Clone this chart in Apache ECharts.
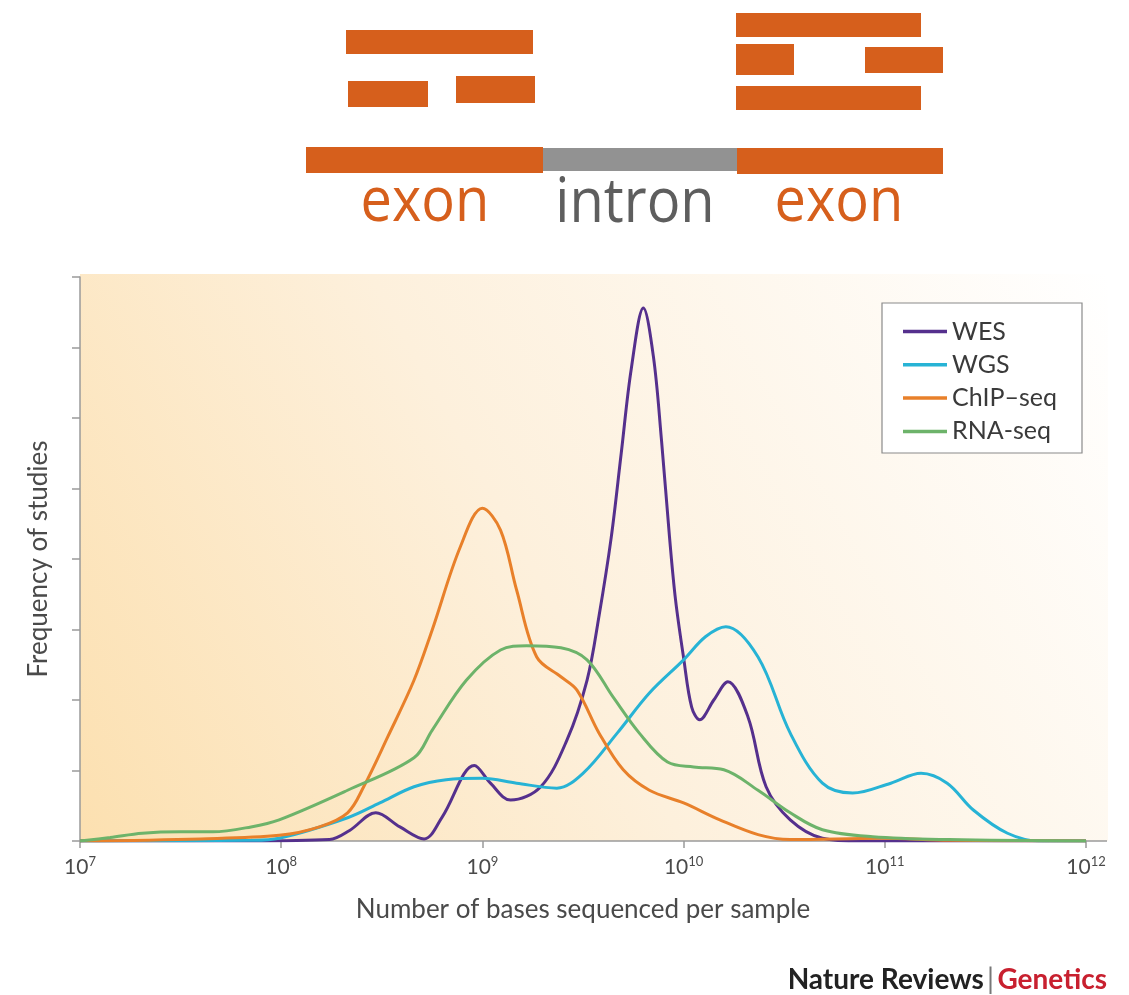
<!DOCTYPE html>
<html>
<head>
<meta charset="utf-8">
<title>Bases sequenced per sample</title>
<script src="https://cdn.jsdelivr.net/npm/echarts@6/dist/echarts.min.js"></script>
<style>
  html, body { margin: 0; padding: 0; background: #fff; }
  #chart { width: 1129px; height: 995px; }
</style>
</head>
<body>
<div id="chart"></div>
<script>
// x positions are log10(bases per sample), y is relative frequency
var seriesNames = ['WES', 'WGS', 'ChIP–seq', 'RNA-seq'];
var seriesColors = ['#55308d', '#27b3d5', '#e8802a', '#6db36a'];

var wesExp = [7.0, 7.85, 8.24, 8.34, 8.47, 8.59, 8.71, 8.80, 8.96, 9.04, 9.14, 9.29, 9.42, 9.52, 9.58, 9.64, 9.69, 9.74, 9.80, 9.85, 9.89, 9.93, 9.96, 10.0, 10.04, 10.08, 10.15, 10.22, 10.32, 10.41, 10.53, 10.69, 10.88, 12.0];
var wesVal = [0, 0, 0.02, 0.15, 0.40, 0.20, 0.03, 0.34, 1.07, 0.82, 0.58, 0.77, 1.43, 2.28, 3.20, 4.30, 5.50, 6.70, 7.56, 6.87, 5.69, 4.31, 3.42, 2.60, 1.90, 1.72, 2.0, 2.26, 1.76, 0.77, 0.30, 0.04, 0, 0];

var wgsExp = [7.0, 7.85, 7.99, 8.33, 8.49, 8.66, 8.82, 9.0, 9.17, 9.37, 9.50, 9.67, 9.83, 10.0, 10.11, 10.21, 10.37, 10.53, 10.69, 10.84, 11.03, 11.18, 11.31, 11.44, 11.61, 11.77, 12.0];
var wgsVal = [0, 0.01, 0.04, 0.33, 0.54, 0.77, 0.87, 0.89, 0.82, 0.75, 0.96, 1.53, 2.10, 2.57, 2.90, 3.04, 2.61, 1.53, 0.82, 0.68, 0.82, 0.96, 0.82, 0.44, 0.11, 0, 0];

var chipExp = [7.0, 7.60, 7.99, 8.19, 8.33, 8.41, 8.53, 8.66, 8.75, 8.89, 9.0, 9.09, 9.17, 9.27, 9.39, 9.47, 9.58, 9.70, 9.83, 10.0, 10.18, 10.37, 10.53, 10.98, 11.32, 12.0];
var chipVal = [0, 0.03, 0.08, 0.20, 0.40, 0.77, 1.48, 2.28, 2.99, 4.17, 4.72, 4.41, 3.56, 2.61, 2.33, 2.14, 1.53, 1.01, 0.72, 0.54, 0.30, 0.09, 0.02, 0.04, 0.01, 0];

var rnaExp = [7.0, 7.15, 7.31, 7.50, 7.66, 7.85, 7.99, 8.33, 8.66, 8.75, 8.92, 9.09, 9.22, 9.39, 9.52, 9.65, 9.78, 9.92, 10.05, 10.20, 10.37, 10.53, 10.69, 10.94, 11.32, 12.0];
var rnaVal = [0, 0.05, 0.11, 0.13, 0.13, 0.20, 0.30, 0.72, 1.18, 1.57, 2.28, 2.71, 2.77, 2.74, 2.57, 2.04, 1.53, 1.12, 1.05, 1.01, 0.72, 0.40, 0.16, 0.06, 0.02, 0];

var xTickExponents = [7, 8, 9, 10, 11, 12];

var chart = echarts.init(document.getElementById('chart'));

function pairs(exps, vals) {
  return exps.map(function (e, i) { return [Math.pow(10, e), vals[i]]; });
}

var allExp = [wesExp, wgsExp, chipExp, rnaExp];
var allVal = [wesVal, wgsVal, chipVal, rnaVal];

var series = seriesNames.map(function (name, i) {
  return {
    name: name,
    type: 'line',
    smooth: 0.35,
    showSymbol: false,
    symbol: 'none',
    lineStyle: { width: 3, color: seriesColors[i] },
    itemStyle: { color: seriesColors[i] },
    z: 3,
    data: pairs(allExp[i], allVal[i])
  };
});

var orange = '#d65f1c';
var geneFont = '56px "Open Sans", sans-serif';

var option = {
  animation: false,
  textStyle: { fontFamily: 'Lato, "Open Sans", sans-serif' },
  grid: { left: 80, right: 43, top: 277, bottom: 154, containLabel: false },
  legend: {
    orient: 'vertical',
    left: 898,
    top: 314,
    icon: 'rect',
    itemWidth: 44,
    itemHeight: 3.5,
    itemGap: 8.3,
    data: seriesNames,
    textStyle: { fontSize: 25, color: '#3a3a3a', lineHeight: 25, fontFamily: 'Lato' },
    z: 10
  },
  xAxis: {
    type: 'log',
    logBase: 10,
    min: Math.pow(10, xTickExponents[0]),
    max: Math.pow(10, xTickExponents[xTickExponents.length - 1]),
    name: 'Number of bases sequenced per sample',
    nameLocation: 'middle',
    nameGap: 56,
    nameTextStyle: { fontSize: 26, color: '#4a4a4a', fontFamily: 'Lato' },
    axisLine: { lineStyle: { color: '#9a9a9a', width: 1.5 } },
    axisTick: { length: 7, lineStyle: { color: '#9a9a9a', width: 1.5 } },
    splitLine: { show: false },
    minorTick: { show: false },
    axisLabel: {
      margin: 14,
      formatter: function (v) {
        return '10{sup|' + Math.round(Math.log10(v)) + '}';
      },
      fontSize: 21,
      color: '#4a4a4a',
      rich: {
        sup: { fontSize: 13, verticalAlign: 'top', padding: [0, 0, 12, 0], color: '#4a4a4a' }
      }
    }
  },
  yAxis: {
    type: 'value',
    min: 0,
    max: 8,
    interval: 1,
    name: 'Frequency of studies',
    nameLocation: 'middle',
    nameGap: 28,
    nameTextStyle: { fontSize: 26, color: '#4a4a4a', fontFamily: 'Lato' },
    axisLine: { show: true, lineStyle: { color: '#9a9a9a', width: 1.5 } },
    axisTick: { show: true, length: 8, lineStyle: { color: '#9a9a9a', width: 1.5 } },
    axisLabel: { show: false },
    splitLine: { show: false }
  },
  graphic: [
    // plot background
    {
      type: 'rect', z: -10, silent: true,
      shape: { x: 80, y: 274, width: 1028, height: 567 },
      style: {
        fill: new echarts.graphic.LinearGradient(0, 1, 1, 0, [
          { offset: 0, color: '#fce0b0' },
          { offset: 0.45, color: '#fdf0dc' },
          { offset: 1, color: '#ffffff' }
        ])
      }
    },
    // x axis line beyond 10^12
    {
      type: 'line', z: 1, silent: true,
      shape: { x1: 1086, y1: 841, x2: 1107, y2: 841 },
      style: { stroke: '#9a9a9a', lineWidth: 1.5 }
    },
    // legend box
    {
      type: 'rect', z: 5, silent: true,
      shape: { x: 882, y: 303, width: 200, height: 150 },
      style: { fill: '#ffffff', stroke: '#8a8a8a', lineWidth: 1.2 }
    },
    // gene diagram: reads
    { type: 'rect', shape: { x: 346, y: 30, width: 187, height: 24 }, style: { fill: orange } },
    { type: 'rect', shape: { x: 348, y: 81, width: 80, height: 26 }, style: { fill: orange } },
    { type: 'rect', shape: { x: 456, y: 76, width: 79, height: 27 }, style: { fill: orange } },
    { type: 'rect', shape: { x: 736, y: 13, width: 185, height: 24 }, style: { fill: orange } },
    { type: 'rect', shape: { x: 736, y: 44, width: 58, height: 31 }, style: { fill: orange } },
    { type: 'rect', shape: { x: 865, y: 47, width: 78, height: 26 }, style: { fill: orange } },
    { type: 'rect', shape: { x: 736, y: 86, width: 185, height: 24 }, style: { fill: orange } },
    // gene diagram: gene
    { type: 'rect', shape: { x: 543, y: 148, width: 194, height: 23 }, style: { fill: '#929292' } },
    { type: 'rect', shape: { x: 306, y: 147, width: 237, height: 26 }, style: { fill: orange } },
    { type: 'rect', shape: { x: 737, y: 148, width: 206, height: 26 }, style: { fill: orange } },
    {
      type: 'text', x: 425, y: 203, scaleY: 1.1,
      style: { text: 'exon', fill: orange, font: geneFont, align: 'center', verticalAlign: 'middle' }
    },
    {
      type: 'text', x: 635, y: 204, scaleY: 1.1,
      style: { text: 'intron', fill: '#5e5e5e', font: geneFont, align: 'center', verticalAlign: 'middle' }
    },
    {
      type: 'text', x: 839, y: 203, scaleY: 1.1,
      style: { text: 'exon', fill: orange, font: geneFont, align: 'center', verticalAlign: 'middle' }
    },
    // credit
    {
      type: 'text', right: 22, top: 966,
      style: {
        text: '{a|Nature Reviews} {b||} {c|Genetics}',
        rich: {
          a: { fontSize: 28, fontWeight: 'bold', fill: '#222222', fontFamily: 'Lato' },
          b: { fontSize: 28, fill: '#777777', fontFamily: 'Lato' },
          c: { fontSize: 28, fontWeight: 'bold', fill: '#c8202f', fontFamily: 'Lato' }
        }
      }
    }
  ],
  series: series
};

chart.setOption(option);
window.addEventListener('resize', function () { chart.resize(); });
</script>
</body>
</html>
